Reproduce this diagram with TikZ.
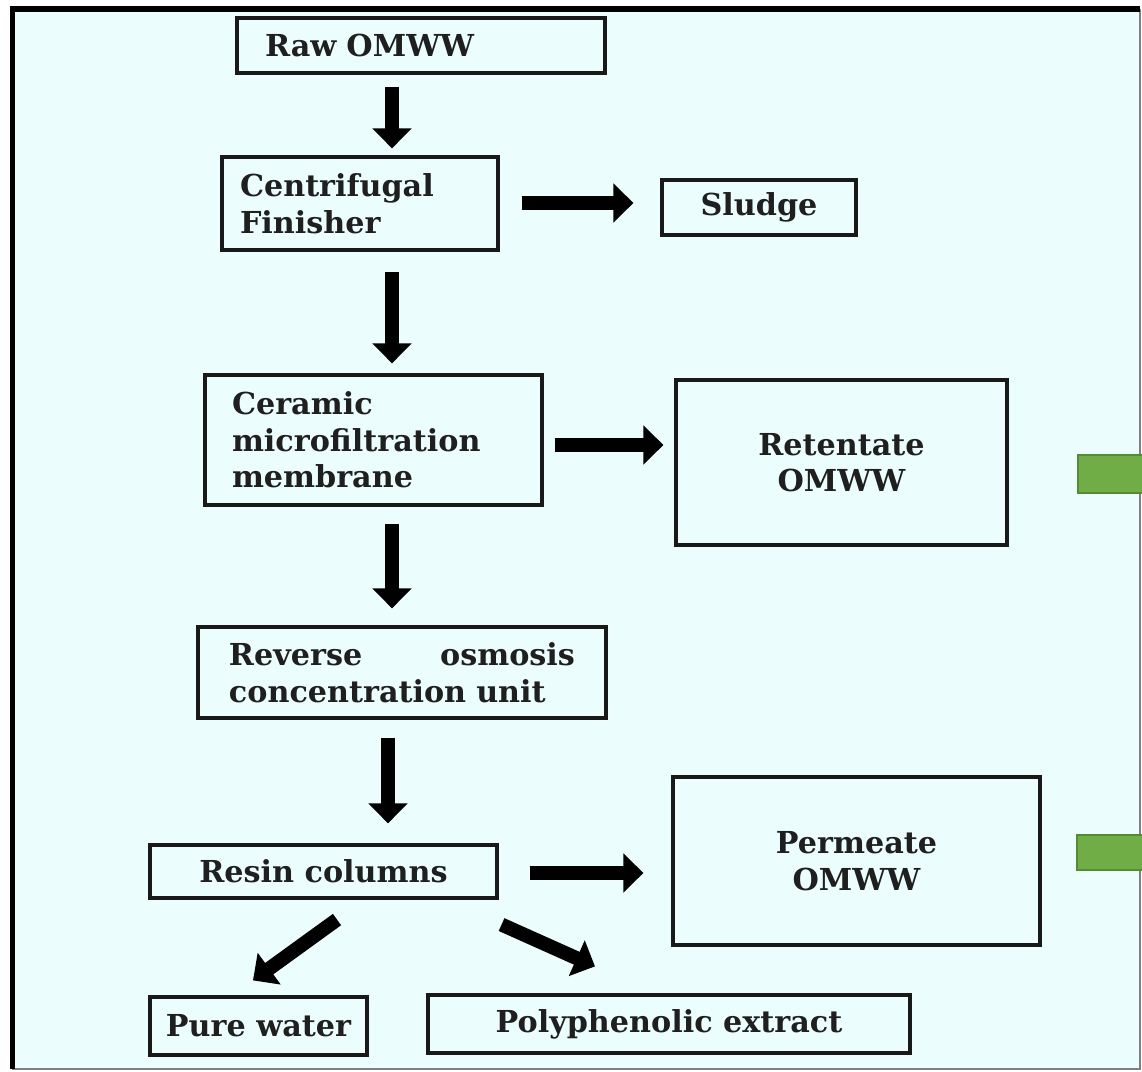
\documentclass[tikz,border=0pt]{standalone}
\usepackage{fontspec}
\setmainfont{DejaVu Serif}
\usetikzlibrary{arrows.meta,calc,positioning}
\definecolor{panelbg}{RGB}{236,253,253}
\definecolor{barfill}{RGB}{112,173,71}
\definecolor{barline}{RGB}{84,140,52}
\tikzset{
  box/.style={draw=black!90,line width=0.9pt,inner sep=0pt,
    font=\fontsize{8.6}{10.4}\selectfont\bfseries,text=black!88},
  flow/.style={line width=0.14cm,-{Triangle[width=0.38cm,length=0.2cm]}}
}
\begin{document}
\begin{tikzpicture}[line width=0.8pt]
\useasboundingbox (0,0) rectangle (11.42,-10.72);
%panel
\fill[white] (0,0) rectangle (11.42,-10.72);
\fill[panelbg] (0.125,-0.09) rectangle (11.40,-10.69);
\draw[black!50,line width=0.6pt] (11.40,-0.09)--(11.40,-10.69)--(0.125,-10.69);
\draw[black,line width=0.055cm] (0.125,-10.69)--(0.125,-0.09)--(11.40,-0.09);
%green bars
\draw[barline,fill=barfill,line width=0.5pt] (10.78,-4.55) rectangle (11.46,-4.93);
\draw[barline,fill=barfill,line width=0.5pt] (10.77,-8.35) rectangle (11.46,-8.70);
%helper coordinates
\coordinate (colA) at (3.92,0);
\coordinate (rowA) at (0,-2.03);
\coordinate (rowB) at (0,-4.45);
\coordinate (rowC) at (0,-8.73);
%boxes
\node[box,minimum width=3.68cm,minimum height=0.55cm,text width=3.12cm,align=left] (raw) at (4.21,-0.455) {Raw OMWW};
\node[box,minimum width=2.76cm,minimum height=0.93cm,text width=2.40cm,align=left] (cent) at (3.60,-2.035) {Centrifugal\\Finisher};
\node[box,minimum width=1.94cm,minimum height=0.55cm] (sludge) at (7.59,-2.075) {Sludge};
\node[box,minimum width=3.37cm,minimum height=1.30cm,text width=2.83cm,align=left] (ceram) at (3.735,-4.40) {Ceramic\\microfiltration\\membrane};
\node[box,minimum width=3.31cm,minimum height=1.65cm,align=center] (ret) at (8.415,-4.625) {Retentate\\OMWW};
\node[box,minimum width=4.08cm,minimum height=0.91cm,text width=3.46cm,align=left] (rev) at (4.02,-6.725) {Reverse\hskip0pt plus1filll osmosis\\concentration unit};
\node[box,minimum width=3.47cm,minimum height=0.53cm] (resin) at (3.235,-8.715) {Resin columns};
\node[box,minimum width=3.67cm,minimum height=1.68cm,align=center] (perm) at (8.565,-8.61) {Permeate\\OMWW};
\node[box,minimum width=2.17cm,minimum height=0.58cm] (pure) at (2.585,-10.26) {Pure water};
\node[box,minimum width=4.82cm,minimum height=0.58cm] (poly) at (6.69,-10.24) {Polyphenolic extract};
%main line
\draw[flow,shorten <=0.12cm,shorten >=0.07cm] (raw.south -| colA) -- (cent.north -| colA);
\draw[flow,shorten <=0.20cm,shorten >=0.10cm] (cent.south -| colA) -- (ceram.north -| colA);
\draw[flow,shorten <=0.17cm,shorten >=0.17cm] (ceram.south -| colA) -- (rev.north -| colA);
\draw[flow,shorten <=0.18cm,shorten >=0.20cm] ([xshift=-0.04cm]rev.south -| colA) -- ([xshift=-0.04cm]resin.north -| colA);
%side streams
\draw[flow,shorten <=0.22cm,shorten >=0.27cm] (cent.east |- rowA) -- (sludge.west |- rowA);
\draw[flow,shorten <=0.11cm,shorten >=0.11cm] (ceram.east |- rowB) -- (ret.west |- rowB);
\draw[flow,shorten <=0.31cm,shorten >=0.28cm] (resin.east |- rowC) -- (perm.west |- rowC);
%products
\draw[flow] ($(resin.south)+(0.135,-0.20)$) -- ($(pure.north)+(-0.055,0.15)$);
\draw[flow] ($(resin.south east)+(0.03,-0.25)$) -- ($(poly.north)+(-0.74,0.27)$);
\end{tikzpicture}
\end{document}
